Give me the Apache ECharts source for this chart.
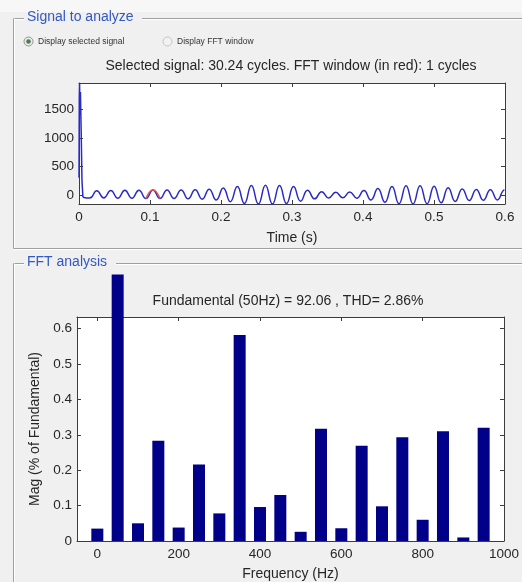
<!DOCTYPE html>
<html>
<head>
<meta charset="utf-8">
<script src="https://cdn.jsdelivr.net/npm/echarts@6/dist/echarts.min.js"></script>
<style>
  html, body { margin: 0; padding: 0; background: #f0f0f0; }
  #chart { width: 522px; height: 582px; }
</style>
</head>
<body>
<div id="chart"></div>
<script>
// ---- Signal to analyze (time domain) ----
const timeTicks = [0, 0.1, 0.2, 0.3, 0.4, 0.5, 0.6];
const ampTicks = [0, 500, 1000, 1500];

// inrush spike at switch-on
const spikeTime = [0, 0.0004, 0.0008, 0.0014, 0.0020, 0.0030, 0.0042, 0.0055];
const spikeAmp  = [300, 1700, 1960, 1400, 1800, 1150, 250, -40];

// steady oscillation, one sample per peak / trough
const waveTime = [
  0.0055, 0.0151, 0.0250, 0.0349, 0.0448, 0.0547, 0.0646, 0.0745, 0.0844, 0.0943,
  0.1042, 0.1141, 0.1240, 0.1339, 0.1438, 0.1537, 0.1636, 0.1735, 0.1834, 0.1933,
  0.2032, 0.2131, 0.2230, 0.2329, 0.2428, 0.2527, 0.2626, 0.2725, 0.2824, 0.2923,
  0.3022, 0.3121, 0.3220, 0.3319, 0.3418, 0.3517, 0.3616, 0.3715, 0.3814, 0.3913,
  0.4012, 0.4111, 0.4210, 0.4309, 0.4408, 0.4507, 0.4606, 0.4705, 0.4804, 0.4903,
  0.5002, 0.5101, 0.5200, 0.5299, 0.5398, 0.5497, 0.5596, 0.5695, 0.5794, 0.5893,
  0.5992, 0.6000
];
const waveAmp = [
  -40, -55, 70, -55, 75, -60, 80, -60, 80, -65,
  85, -65, 85, -65, 85, -70, 90, -75, 100, -90,
  120, -120, 145, -150, 165, -160, 170, -160, 165, -150,
  145, -110, 80, -70, 55, -55, 45, -50, 50, -60,
  75, -90, 110, -130, 145, -155, 160, -160, 160, -155,
  150, -140, 125, -115, 105, -100, 95, -95, 90, -90,
  85, 84
];
// FFT window (one cycle, drawn in red)
const fftWindowStart = 0.094;
const fftWindowEnd = 0.115;

// ---- FFT analysis ----
const harmonicHz = [0, 50, 100, 150, 200, 250, 300, 350, 400, 450,
                    500, 550, 600, 650, 700, 750, 800, 850, 900, 950];
const magPct = [0.035, 0.753, 0.050, 0.283, 0.038, 0.216, 0.078, 0.582, 0.096, 0.130,
                0.026, 0.317, 0.036, 0.269, 0.098, 0.293, 0.060, 0.310, 0.010, 0.320];
const freqTicks = [0, 200, 400, 600, 800, 1000];
const magTicks = [0, 0.1, 0.2, 0.3, 0.4, 0.5, 0.6];

const FONT = '"Liberation Sans", Arial, sans-serif';
const TXT = '#262626';
const FRAME = '#3c3c3c';
const PANEL_TITLE = '#3358c4';
const SIGNAL = '#2a2ac4';

function boxAxis(kind, gridIndex, pos, min, max, ticks, showLabels, extra) {
  return Object.assign({
    type: 'value', gridIndex, position: pos, min, max,
    axisLine: { show: true, onZero: false, lineStyle: { color: FRAME, width: 1 } },
    axisTick: { show: true, inside: true, length: 4, customValues: ticks,
                lineStyle: { color: FRAME, width: 1 } },
    axisLabel: { show: showLabels, customValues: ticks, color: TXT,
                 fontFamily: FONT, fontSize: 13.5,
                 margin: kind === 'x' ? 6 : 5,
                 formatter: v => String(v) },
    splitLine: { show: false }
  }, extra || {});
}

const chart = echarts.init(document.getElementById('chart'), null, { renderer: 'canvas' });

const waveData = waveTime.map((t, i) => [t, waveAmp[i]]);
const redData = waveData.filter(p => p[0] >= fftWindowStart && p[0] <= fftWindowEnd);

// etched panel frame helpers
function etchedH(x1, x2, y) {
  return [
    { type: 'line', shape: { x1, y1: y, x2, y2: y }, style: { stroke: '#a0a0a0', lineWidth: 1 }, z: 1 },
    { type: 'line', shape: { x1, y1: y + 1, x2, y2: y + 1 }, style: { stroke: '#ffffff', lineWidth: 1 }, z: 1 }
  ];
}
function etchedV(x, y1, y2) {
  return [
    { type: 'line', shape: { x1: x, y1, x2: x, y2 }, style: { stroke: '#a0a0a0', lineWidth: 1 }, z: 1 },
    { type: 'line', shape: { x1: x + 1, y1, x2: x + 1, y2 }, style: { stroke: '#ffffff', lineWidth: 1 }, z: 1 }
  ];
}

const graphics = [].concat(
  [{ type: 'rect', shape: { x: 0, y: 0, width: 522, height: 12 }, style: { fill: '#f7f7f7' }, z: 0 }],
  etchedH(13.5, 24, 18.5), etchedH(142, 530, 18.5), etchedV(13.5, 18.5, 248.5), etchedH(13.5, 530, 248.5),
  etchedH(13.5, 24, 263.5), etchedH(116, 530, 263.5), etchedV(13.5, 263.5, 590),
  [
    { type: 'text', left: 27, top: 10, z: 2,
      style: { text: 'Signal to analyze', fill: PANEL_TITLE, font: '14px ' + FONT } },
    { type: 'text', left: 27, top: 255, z: 2,
      style: { text: 'FFT analysis', fill: PANEL_TITLE, font: '14px ' + FONT } },
    // radio buttons
    { type: 'circle', shape: { cx: 28.5, cy: 41.5, r: 4.5 }, z: 2,
      style: { fill: '#e8ece8', stroke: '#8a9a8a', lineWidth: 1 } },
    { type: 'circle', shape: { cx: 28.5, cy: 41.5, r: 2.3 }, z: 3,
      style: { fill: '#4f7a56' } },
    { type: 'text', left: 38, top: 37, z: 2,
      style: { text: 'Display selected signal', fill: '#333', font: '8.5px ' + FONT } },
    { type: 'circle', shape: { cx: 167.5, cy: 41.5, r: 4.5 }, z: 2,
      style: { fill: '#f2f2f2', stroke: '#c4c4c4', lineWidth: 1 } },
    { type: 'text', left: 177, top: 37, z: 2,
      style: { text: 'Display FFT window', fill: '#333', font: '8.5px ' + FONT } },
    { type: 'text', x: 291, y: 66, z: 2,
      style: { text: 'Selected signal: 30.24 cycles. FFT window (in red): 1 cycles',
               fill: TXT, font: '14px ' + FONT, align: 'center', verticalAlign: 'middle' } },
    { type: 'text', x: 288, y: 301, z: 2,
      style: { text: 'Fundamental (50Hz) = 92.06 , THD= 2.86%',
               fill: TXT, font: '14px ' + FONT, align: 'center', verticalAlign: 'middle' } }
  ]
);

chart.setOption({
  backgroundColor: '#f0f0f0',
  animation: false,
  graphic: graphics,
  grid: [
    { left: 79, top: 83, width: 426, height: 121, show: true, backgroundColor: '#ffffff', borderWidth: 0 },
    { left: 77, top: 317, width: 430, height: 229, show: true, backgroundColor: '#ffffff', borderWidth: 0 }
  ],
  xAxis: [
    boxAxis('x', 0, 'bottom', 0, 0.6, timeTicks, true,
      { name: 'Time (s)', nameLocation: 'middle', nameGap: 27,
        nameTextStyle: { color: TXT, fontFamily: FONT, fontSize: 14 } }),
    boxAxis('x', 0, 'top', 0, 0.6, timeTicks, false),
    boxAxis('x', 1, 'bottom', -50, 1000, freqTicks, true,
      { name: 'Frequency (Hz)', nameLocation: 'middle', nameGap: 26,
        nameTextStyle: { color: TXT, fontFamily: FONT, fontSize: 14 } }),
    boxAxis('x', 1, 'top', -50, 1000, freqTicks, false)
  ],
  yAxis: [
    boxAxis('y', 0, 'left', -160, 1960, ampTicks, true),
    boxAxis('y', 0, 'right', -160, 1960, ampTicks, false),
    boxAxis('y', 1, 'left', 0, 0.633, magTicks, true,
      { name: 'Mag (% of Fundamental)', nameLocation: 'middle', nameGap: 35, nameRotate: 90,
        nameTextStyle: { color: TXT, fontFamily: FONT, fontSize: 14 } }),
    boxAxis('y', 1, 'right', 0, 0.633, magTicks, false)
  ],
  series: [
    { type: 'line', xAxisIndex: 0, yAxisIndex: 0, showSymbol: false, symbol: 'none',
      data: spikeTime.map((t, i) => [t, spikeAmp[i]]),
      lineStyle: { color: SIGNAL, width: 1.5 }, z: 3 },
    { type: 'line', xAxisIndex: 0, yAxisIndex: 0, showSymbol: false, symbol: 'none', smooth: 0.5,
      data: waveData, lineStyle: { color: SIGNAL, width: 1.5 }, z: 3 },
    { type: 'line', xAxisIndex: 0, yAxisIndex: 0, showSymbol: false, symbol: 'none', smooth: 0.5,
      data: redData, lineStyle: { color: '#e05050', width: 1.5 }, z: 4 },
    { type: 'bar', xAxisIndex: 2, yAxisIndex: 2, barWidth: 12, clip: false,
      data: harmonicHz.map((f, i) => [f, magPct[i]]),
      itemStyle: { color: '#000088' }, z: 3 }
  ]
});
</script>
</body>
</html>
